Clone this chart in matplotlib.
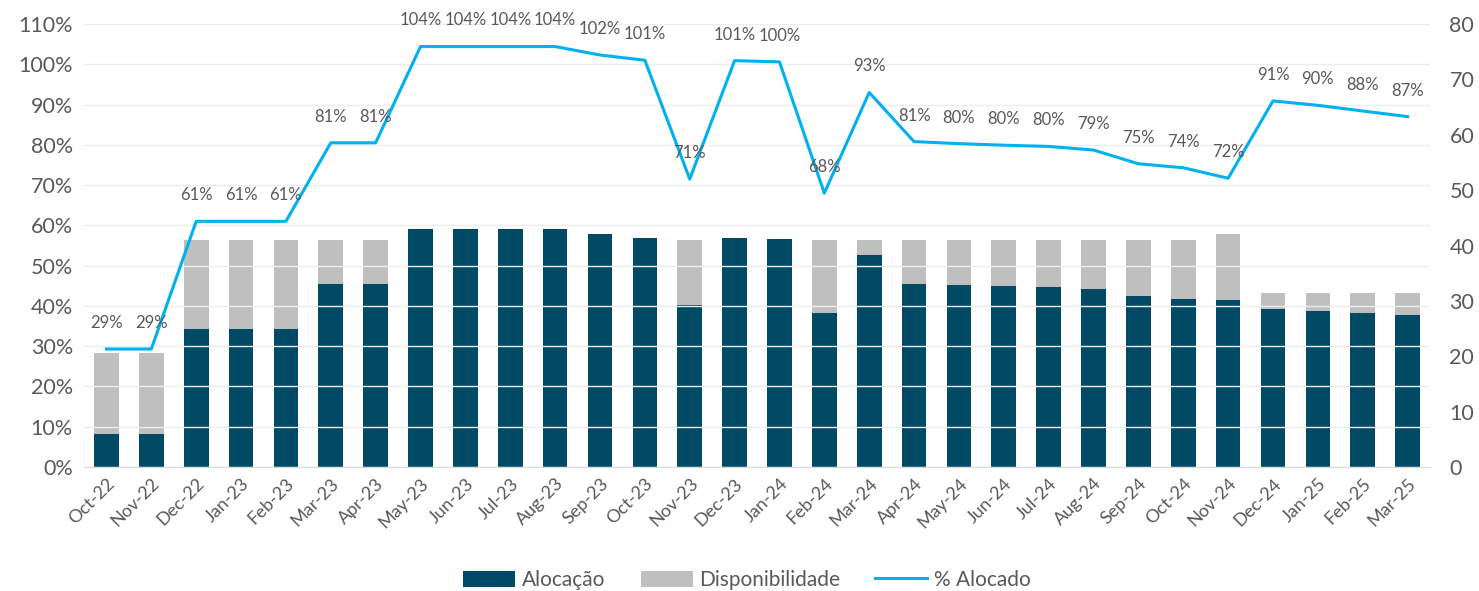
import matplotlib.pyplot as plt
import numpy as np

# months on the x axis
months = ["Oct-22", "Nov-22", "Dec-22", "Jan-23", "Feb-23", "Mar-23", "Apr-23",
          "May-23", "Jun-23", "Jul-23", "Aug-23", "Sep-23", "Oct-23", "Nov-23",
          "Dec-23", "Jan-24", "Feb-24", "Mar-24", "Apr-24", "May-24", "Jun-24",
          "Jul-24", "Aug-24", "Sep-24", "Oct-24", "Nov-24", "Dec-24", "Jan-25",
          "Feb-25", "Mar-25"]

# bars (right axis)
alocacao = [6.0, 6.0, 25.0, 25.0, 25.0, 33.0, 33.0,
            42.9, 42.9, 42.9, 42.9, 42.0, 41.4, 29.3,
            41.3, 41.2, 27.9, 38.2, 33.1, 32.8, 32.6,
            32.5, 32.2, 30.9, 30.4, 30.2, 28.6, 28.2,
            27.9, 27.4]
disponibilidade = [14.5, 14.5, 16.0, 16.0, 16.0, 8.0, 8.0,
                   -0.4, -0.4, -0.4, -0.4, -0.4, -0.4, 11.7,
                   -0.2, 0.0, 13.1, 2.8, 7.9, 8.2, 8.4,
                   8.5, 8.8, 10.1, 10.6, 11.9, 2.9, 3.3,
                   3.6, 4.1]

# line (left axis), in %
pct_alocado = [29.3, 29.3, 61.0, 61.0, 61.0, 80.5, 80.5,
               104.4, 104.4, 104.4, 104.4, 102.3, 101.0, 71.5,
               100.9, 100.6, 68.0, 93.0, 80.8, 80.3, 79.9,
               79.6, 78.7, 75.3, 74.3, 71.7, 90.9, 89.8,
               88.4, 87.0]
pct_labels = ["29%", "29%", "61%", "61%", "61%", "81%", "81%",
              "104%", "104%", "104%", "104%", "102%", "101%", "71%",
              "101%", "100%", "68%", "93%", "81%", "80%", "80%",
              "80%", "79%", "75%", "74%", "72%", "91%", "90%",
              "88%", "87%"]

DARK = "#004A66"
GRAY = "#BFBFBF"
LINE = "#00B0F0"
TXT = "#595959"

plt.rcParams['font.family'] = ['Lato', 'DejaVu Sans']

fig = plt.figure(figsize=(14.79, 5.91), dpi=100)
ax = fig.add_axes([0.0568, 0.2098, 0.9101, 0.7496])
ax2 = ax.twinx()

x = np.arange(len(months))

# line on left axis, bars on right axis (bars drawn behind)
ax2.bar(x, alocacao, width=0.55, color=DARK, label="Alocação", zorder=2)
pos = [max(d, 0) for d in disponibilidade]
neg = [min(d, 0) for d in disponibilidade]
ax2.bar(x, pos, width=0.55, bottom=alocacao, color=GRAY, label="Disponibilidade", zorder=2)
ax2.bar(x, neg, width=0.55, color=GRAY, zorder=2)

ax.set_zorder(ax2.get_zorder() + 1)
ax.patch.set_visible(False)
ax.plot(x, pct_alocado, color=LINE, lw=2.2, label="% Alocado", zorder=3)
for xi, v, lab in zip(x, pct_alocado, pct_labels):
    ax.annotate(lab, (xi, v), xytext=(0, 13), textcoords="offset points",
                ha="center", va="bottom", fontsize=12, color=TXT)

ax.set_ylim(0, 110)
ax.set_yticks(np.arange(0, 111, 10))
ax.set_yticklabels([f"{t}%" for t in range(0, 111, 10)])
ax2.set_ylim(0, 80)
ax2.set_yticks(np.arange(0, 81, 10))
ax.set_xlim(-0.5, len(months) - 0.5)
ax.set_xticks(x)
ax.set_xticklabels(months, rotation=45, ha="right", rotation_mode="anchor",
                   fontsize=13, color=TXT)

ax.grid(axis="y", color="#EDEDED", lw=1)
ax.set_axisbelow(True)
for a in (ax, ax2):
    for s in a.spines.values():
        s.set_visible(False)
    a.tick_params(length=0)
ax.spines["bottom"].set_visible(True)
ax.spines["bottom"].set_color("#D9D9D9")
ax.tick_params(axis="y", labelsize=15.5, labelcolor=TXT, pad=8)
ax.tick_params(axis="x", pad=6)
ax2.tick_params(axis="y", labelsize=15.5, labelcolor=TXT, pad=14)

h2, l2 = ax2.get_legend_handles_labels()
h1, l1 = ax.get_legend_handles_labels()
fig.legend(h2 + h1, l2 + l1, loc="lower center", bbox_to_anchor=(0.505, -0.03),
           ncol=3, frameon=False, fontsize=15, labelcolor=TXT,
           handlelength=2.5, handleheight=0.8, columnspacing=1.7, handletextpad=0.3)

fig.savefig("out.png", dpi=100)
